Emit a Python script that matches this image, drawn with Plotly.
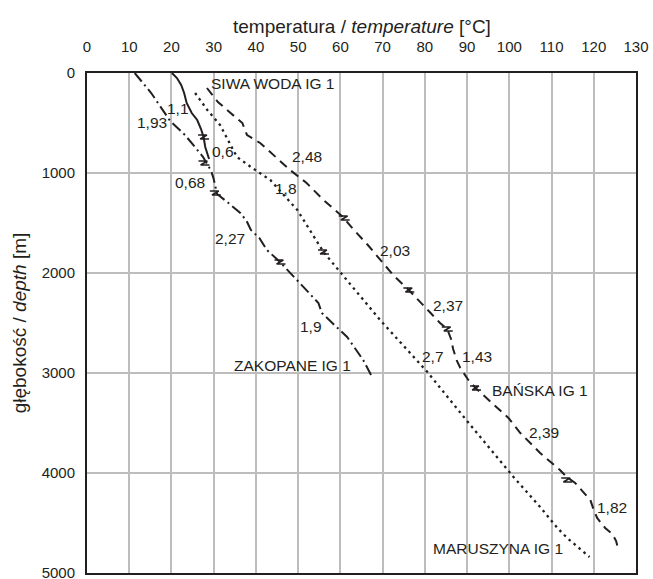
import plotly.graph_objects as go

# Temperature logs (°C) versus depth (m) for four boreholes
siwa_t = [20.1, 21.3, 22.3, 23.0, 23.6, 24.8, 26.1, 27.0, 27.6, 28.0, 28.9]
siwa_d = [0, 50, 120, 200, 300, 400, 470, 560, 640, 740, 860]

zak_t = [11.3, 15.2, 19.7, 23.2, 27.5, 28.6, 29.4, 30.0, 30.4, 30.8, 33.5, 36.3,
         37.8, 38.8, 40.8, 42.6, 45.7, 49.5, 53.6, 54.8, 55.6, 58.5, 61.6, 65.4, 67.5]
zak_d = [0, 200, 480, 620, 840, 920, 980, 1060, 1150, 1210, 1300, 1400,
         1480, 1570, 1650, 1770, 1890, 2060, 2240, 2300, 2400, 2520, 2640, 2870, 3040]

ban_t = [28.4, 31.0, 34.0, 36.8, 37.3, 37.9, 41.0, 48.1, 52.0, 56.0, 60.6, 63.0,
         66.5, 69.4, 72.5, 76.2, 79.9, 81.8, 83.6, 85.3, 86.2, 86.7, 87.6, 88.4,
         90.3, 92.0, 96.0, 99.8, 102.6, 104.0, 107.3, 112.0, 113.6, 115.6, 118.0,
         119.2, 120.0, 120.8, 122.7, 124.4, 125.3, 125.8]
ban_d = [150, 290, 400, 500, 560, 620, 700, 970, 1100, 1270, 1440, 1560,
         1720, 1870, 2020, 2170, 2340, 2420, 2500, 2560, 2660, 2760, 2880, 2950,
         3070, 3150, 3300, 3450, 3600, 3660, 3800, 3970, 4040, 4100, 4220,
         4270, 4370, 4450, 4550, 4610, 4680, 4770]

mar_t = [25.6, 28.5, 31.5, 35.5, 39.5, 43.4, 49.8, 56.0, 62.5, 69.4, 75.0, 80.6,
         90.0, 101.0, 107.3, 111.4, 113.7, 119.0]
mar_d = [200, 370, 520, 840, 960, 1070, 1370, 1790, 2120, 2470, 2730, 2990,
         3480, 4040, 4340, 4550, 4650, 4840]

# Boundaries between gradient intervals
brk_t = [27.6, 27.7, 30.4, 45.7, 60.9, 76.2, 85.3, 92.0, 113.6, 56.0]
brk_d = [640, 900, 1200, 1890, 1450, 2170, 2560, 3150, 4070, 1790]

# Gradient labels (°C/100 m) and well names
lab_text = ["1,1", "1,93", "0,6", "0,68", "2,48", "1,8", "2,27", "2,03", "1,9",
            "2,37", "2,7", "1,43", "2,39", "1,82"]
lab_t = [21.5, 15.4, 32.3, 24.4, 52.1, 47.2, 33.9, 73.0, 53.1,
         85.5, 82.0, 92.4, 108.3, 124.4]
lab_d = [350, 490, 780, 1090, 830, 1150, 1650, 1770, 2530,
         2320, 2830, 2830, 3590, 4340]

well_text = ["SIWA WODA IG 1", "ZAKOPANE IG 1", "BAŃSKA IG 1", "MARUSZYNA IG 1"]
well_t = [44.0, 48.6, 107.3, 97.4]
well_d = [100, 2920, 3170, 4750]

INK = "#231f20"
GRID = "#bdbdbd"
FONT = "Liberation Sans"

fig = go.Figure()

def well(t, d, dash, width=2):
    fig.add_trace(go.Scatter(x=t, y=d, mode="lines",
                             line=dict(color=INK, width=width, dash=dash),
                             hoverinfo="skip", showlegend=False))

well(siwa_t, siwa_d, "solid")
well(zak_t, zak_d, "11px,4px,2px,4px")
well(ban_t, ban_d, "9px,6px")
well(mar_t, mar_d, "2.5px,4px", width=2.3)

# small Z-shaped ticks at each interval boundary
zx, zy = [], []
for t, d in zip(brk_t, brk_d):
    zx += [t - 1.3, t + 0.8, t - 0.8, t + 1.3, None]
    zy += [d - 20, d - 20, d + 20, d + 20, None]
fig.add_trace(go.Scatter(x=zx, y=zy, mode="lines",
                         line=dict(color=INK, width=1.5),
                         hoverinfo="skip", showlegend=False))

for s, t, d in zip(lab_text + well_text, lab_t + well_t, lab_d + well_d):
    fig.add_annotation(x=t, y=d, text=s, showarrow=False,
                       font=dict(family=FONT, size=15.5, color=INK),
                       xanchor="center", yanchor="middle")

# axis title above the top tick labels
fig.add_annotation(xref="paper", yref="paper", x=0.5, y=1.092,
                   text="temperatura / <i>temperature</i> [°C]", showarrow=False,
                   font=dict(family=FONT, size=19, color=INK),
                   xanchor="center", yanchor="middle")

axis_common = dict(
    showgrid=True, gridcolor=GRID, gridwidth=1.5,
    showline=True, linecolor=INK, linewidth=2, mirror=True,
    ticks="", zeroline=False, layer="below traces",
    ticklabeloverflow="allow",
    tickfont=dict(family=FONT, size=15, color=INK),
)

fig.update_layout(
    template="none",
    width=653, height=579,
    margin=dict(l=87, r=17, t=73, b=6),
    paper_bgcolor="white", plot_bgcolor="white",
    font=dict(family=FONT, color=INK),
    xaxis=dict(side="top", range=[0, 130], dtick=10, tick0=0,
               ticklabelstandoff=13, **axis_common),
    yaxis=dict(range=[5000, 0], dtick=1000, tick0=0, ticklabelstandoff=7,
               title=dict(text="głębokość / <i>depth</i> [m]",
                          font=dict(family=FONT, size=19, color=INK), standoff=10),
               **axis_common),
)

fig.write_html("out.html")
